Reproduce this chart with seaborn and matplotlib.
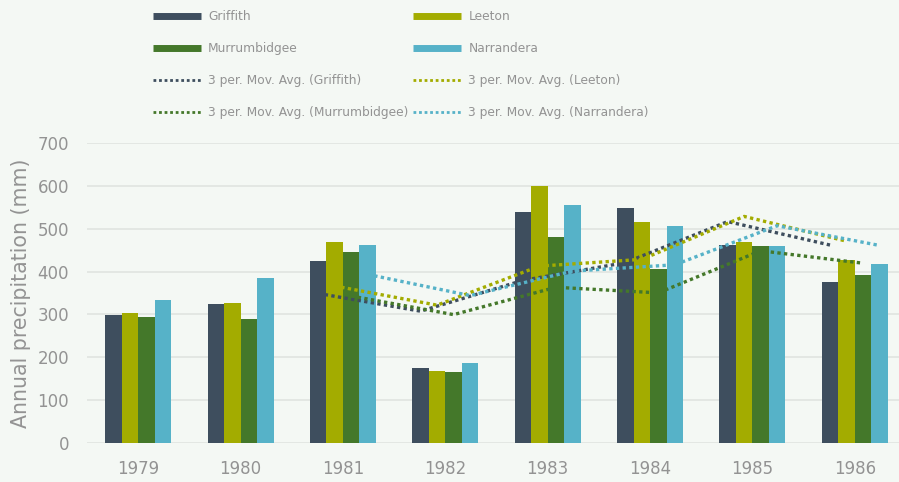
import matplotlib
matplotlib.use("Agg")
import matplotlib.pyplot as plt
from matplotlib.lines import Line2D
import numpy as np
import pandas as pd
import seaborn as sns

# Annual precipitation (mm) per station
years = ["1979", "1980", "1981", "1982", "1983", "1984", "1985", "1986"]
griffith = [299, 324, 424, 175, 539, 548, 462, 375]
leeton = [303, 327, 469, 169, 600, 516, 469, 427]
murrumbidgee = [295, 289, 445, 165, 480, 406, 459, 393]
narrandera = [334, 384, 462, 186, 555, 506, 459, 417]

stations = ["Griffith", "Leeton", "Murrumbidgee", "Narrandera"]
colors = ["#3e4e5e", "#a3ac00", "#44782a", "#56b2c8"]
yticks = [0, 100, 200, 300, 400, 500, 600, 700]

series = {"Griffith": griffith, "Leeton": leeton,
          "Murrumbidgee": murrumbidgee, "Narrandera": narrandera}
df = pd.DataFrame([
    {"Year": y, "Station": s, "Precip": v}
    for s in stations for y, v in zip(years, series[s])
])

bg = "#f4f8f4"
text_col = "#939393"
grid_col = "#dfe3df"

sns.set_theme(style="white")
plt.rcParams["font.family"] = ["DejaVu Sans"]

fig = plt.figure(figsize=(8.99, 4.82), dpi=100, facecolor=bg)
ax = fig.add_axes([87 / 899, 38.7 / 482, 819 / 899, 300.6 / 482])
ax.set_facecolor(bg)

group_w = 0.645
sns.barplot(data=df, x="Year", y="Precip", hue="Station", order=years,
            hue_order=stations, palette=colors, width=group_w, gap=0,
            saturation=1, linewidth=0, legend=False, ax=ax, zorder=2)

# 3-period moving average per station, drawn at each station's bar centre
bar_w = group_w / len(stations)
x = np.arange(len(years))
for i, (s, c) in enumerate(zip(stations, colors)):
    ma = pd.Series(series[s]).rolling(3).mean()
    off = -group_w / 2 + bar_w / 2 + i * bar_w
    ax.plot(x + off, ma, color=c, lw=2.4, linestyle=(0, (1, 1.0)), zorder=3)

ax.set_xlim(-0.5, len(years) - 0.5)
ax.set_ylim(0, 700)
ax.set_yticks(yticks)
ax.set_yticklabels([str(v) for v in yticks])
ax.yaxis.grid(True, color=grid_col, lw=1.1, zorder=0)
ax.set_axisbelow(True)
for sp in ax.spines.values():
    sp.set_visible(False)
ax.tick_params(axis="both", length=0, labelsize=12, colors=text_col)
ax.tick_params(axis="y", pad=13)
ax.tick_params(axis="x", pad=12)
ax.set_xlabel("")
ax.set_ylabel("Annual precipitation (mm)", fontsize=14.8, color=text_col)
ax.yaxis.set_label_coords(-0.068, 0.5)

# Legend: two columns, bar swatches then moving-average lines
handles, labels = [], []
col1 = [("bar", 0), ("bar", 2), ("ma", 0), ("ma", 2)]
col2 = [("bar", 1), ("bar", 3), ("ma", 1), ("ma", 3)]
for kind, i in col1 + col2:
    if kind == "bar":
        handles.append(Line2D([], [], color=colors[i], lw=5, solid_capstyle="butt"))
        labels.append(stations[i])
    else:
        handles.append(Line2D([], [], color=colors[i], lw=2, linestyle=(0, (1, 1.0))))
        labels.append(f"3 per. Mov. Avg. ({stations[i]})")

leg = fig.legend(handles, labels, ncol=2, loc="upper left",
                 bbox_to_anchor=(153 / 899, 1 - 10 / 482), frameon=False,
                 fontsize=8.8, handlelength=3.9, handletextpad=0.6,
                 labelspacing=1.55, columnspacing=0.4, borderpad=0,
                 borderaxespad=0)
for t in leg.get_texts():
    t.set_color(text_col)

fig.savefig("out.png", dpi=100, facecolor=bg)
